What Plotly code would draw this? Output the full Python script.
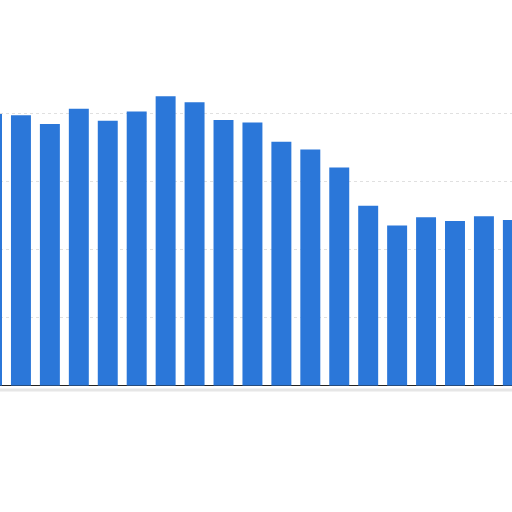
import plotly.graph_objects as go

# bar values (gridlines every 20)
categories = list(range(19))
values = [79.9, 79.5, 76.9, 81.4, 77.9, 80.6, 85.1, 83.3, 78.1, 77.4,
          71.7, 69.4, 64.1, 52.9, 47.1, 49.5, 48.4, 49.8, 48.7]
grid_ticks = [20, 40, 60, 80]

fig = go.Figure()

fig.add_trace(go.Bar(
    x=categories,
    y=values,
    marker=dict(color="#2b77d9", line=dict(width=0)),
    hoverinfo="skip",
))

# soft shadow under the baseline
fig.add_shape(type="line", xref="paper", yref="y",
              x0=0, x1=1, y0=-1.3, y1=-1.3,
              line=dict(color="#e6e6e6", width=3), layer="below")

fig.update_layout(
    width=512, height=512,
    margin=dict(l=0, r=0, t=0, b=0),
    showlegend=False,
    bargap=0.31,
    paper_bgcolor="white",
    plot_bgcolor="white",
    xaxis=dict(range=[0.276, 17.97], showgrid=False, zeroline=False,
               showticklabels=False, ticks=""),
    yaxis=dict(range=[-37.2, 113.4], tickvals=grid_ticks,
               showgrid=True, gridcolor="#e0e0e0", griddash="dot", gridwidth=1,
               zeroline=True, zerolinecolor="#222222", zerolinewidth=1,
               showticklabels=False, ticks=""),
)

# drop the default page margin so the figure fills the window
fig.write_html("out.html", config={"displayModeBar": False},
               post_script="document.body.style.margin='0';")
